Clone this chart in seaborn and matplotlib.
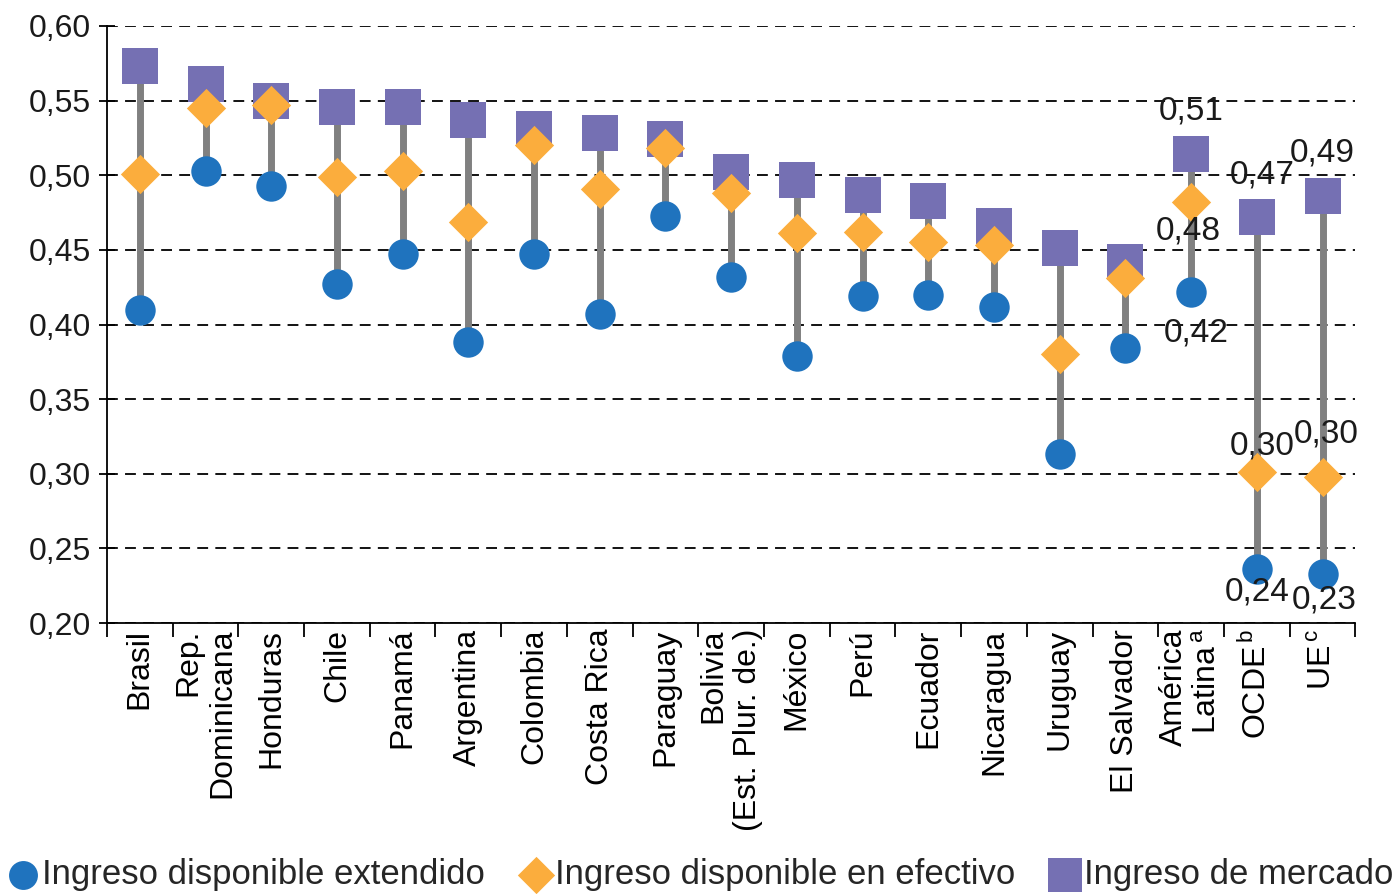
import numpy as np
import pandas as pd
import matplotlib
matplotlib.use("Agg")
import matplotlib.pyplot as plt
from matplotlib.ticker import FuncFormatter, FixedLocator
import seaborn as sns

PAISES = [
    "Brasil", "Rep. Dominicana", "Honduras", "Chile", "Panamá", "Argentina",
    "Colombia", "Costa Rica", "Paraguay", "Bolivia", "México", "Perú",
    "Ecuador", "Nicaragua", "Uruguay", "El Salvador", "América Latina",
    "OCDE", "UE",
]

ETIQUETAS = [
    "Brasil", "Rep.\nDominicana", "Honduras", "Chile", "Panamá", "Argentina",
    "Colombia", "Costa Rica", "Paraguay", "Bolivia\n(Est. Plur. de.)", "México",
    "Perú", "Ecuador", "Nicaragua", "Uruguay", "El Salvador",
    "América\nLatina$^{\\,\\mathrm{a}}$", "OCDE$^{\\,\\mathrm{b}}$", "UE$^{\\,\\mathrm{c}}$",
]

MERCADO = [0.573, 0.561, 0.550, 0.546, 0.546, 0.537, 0.531, 0.528, 0.524,
           0.502, 0.497, 0.487, 0.483, 0.466, 0.451, 0.442, 0.514, 0.472, 0.486]
EFECTIVO = [0.501, 0.545, 0.547, 0.499, 0.503, 0.469, 0.520, 0.491, 0.518,
            0.488, 0.461, 0.462, 0.455, 0.453, 0.380, 0.431, 0.482, 0.301, 0.298]
EXTENDIDO = [0.410, 0.503, 0.493, 0.427, 0.447, 0.388, 0.447, 0.407, 0.473,
             0.432, 0.379, 0.419, 0.420, 0.412, 0.313, 0.384, 0.422, 0.236, 0.233]

SERIES = ["Ingreso disponible extendido", "Ingreso disponible en efectivo",
          "Ingreso de mercado"]

# etiquetas de datos solo para los agregados (offset en puntos)
ANOTADOS = {
    "América Latina": [(4, -30), (-2, -21), (0, 31)],
    "OCDE": [(0, -16), (4, 19), (4, 30)],
    "UE": [(1, -19), (3, 31), (0, 31)],
}

sns.set_theme(style="white")
plt.rcParams["font.family"] = ["Liberation Sans", "DejaVu Sans"]
plt.rcParams["mathtext.fontset"] = "custom"
plt.rcParams["mathtext.rm"] = "Liberation Sans"

df = pd.DataFrame({
    "pais": PAISES * 3,
    "serie": np.repeat(SERIES, len(PAISES)),
    "valor": EXTENDIDO + EFECTIVO + MERCADO,
})

estilos = {
    "Ingreso de mercado": dict(marker="s", s=700, color="#7570b3", zorder=3),
    "Ingreso disponible en efectivo": dict(marker="D", s=400, color="#fbad3d", zorder=4),
    "Ingreso disponible extendido": dict(marker="o", s=480, color="#1f73be", zorder=5),
}

fig, ax = plt.subplots(figsize=(13.98, 8.94), dpi=100)
fig.subplots_adjust(left=0.0765, right=0.9695, top=0.971, bottom=0.303)

ax.vlines(PAISES, EXTENDIDO, MERCADO, color="#808080", linewidth=5, zorder=1)

for serie in ["Ingreso de mercado", "Ingreso disponible en efectivo",
              "Ingreso disponible extendido"]:
    sub = df[df["serie"] == serie]
    sns.scatterplot(data=sub, x="pais", y="valor", ax=ax, linewidth=0,
                    label=serie, legend=False, **estilos[serie])

for pais, offs in ANOTADOS.items():
    i = PAISES.index(pais)
    for val, off in zip([EXTENDIDO[i], EFECTIVO[i], MERCADO[i]], offs):
        ax.annotate(f"{val:.2f}".replace(".", ","), (i, val), xytext=off,
                    textcoords="offset points", ha="center", va="center",
                    fontsize=24, color="#1a1a1a", zorder=6)

ax.set_xlim(-0.5, len(PAISES) - 0.5)
ax.set_ylim(0.20, 0.60)
ax.yaxis.set_major_locator(FixedLocator(np.arange(0.20, 0.601, 0.05)))
ax.yaxis.set_major_formatter(FuncFormatter(lambda v, p: f"{v:.2f}".replace(".", ",")))
ax.yaxis.grid(True, color="black", linestyle=(0, (6, 4)), linewidth=1.3)
ax.set_axisbelow(True)

ax.set_xticks(range(len(PAISES)))
ax.set_xticklabels(ETIQUETAS, rotation=90, va="top", ha="center",
                   multialignment="right")
ax.set_xticks(np.arange(-0.5, len(PAISES)), minor=True)
ax.tick_params(axis="x", which="major", length=0, pad=4, labelsize=23,
               labelcolor="black")
ax.tick_params(axis="x", which="minor", length=10, width=1.3, color="black",
               direction="out", bottom=True)
ax.tick_params(axis="y", length=11, width=1.3, color="black", direction="inout",
               left=True, labelsize=23, pad=6, labelcolor="#1a1a1a")

ax.set_xlabel("")
ax.set_ylabel("")
for lado in ["top", "right"]:
    ax.spines[lado].set_visible(False)
for lado in ["left", "bottom"]:
    ax.spines[lado].set_color("black")
    ax.spines[lado].set_linewidth(1.3)

handles, labels = ax.get_legend_handles_labels()
orden = [labels.index(s) for s in SERIES]
fig.legend([handles[k] for k in orden], [labels[k] for k in orden],
           loc="center", bbox_to_anchor=(0.5, 0.022), ncol=3,
           frameon=False, fontsize=25, handletextpad=0.0, columnspacing=0.9,
           handlelength=1.1, markerscale=0.95, borderaxespad=0)

fig.savefig("out.png", dpi=100)
